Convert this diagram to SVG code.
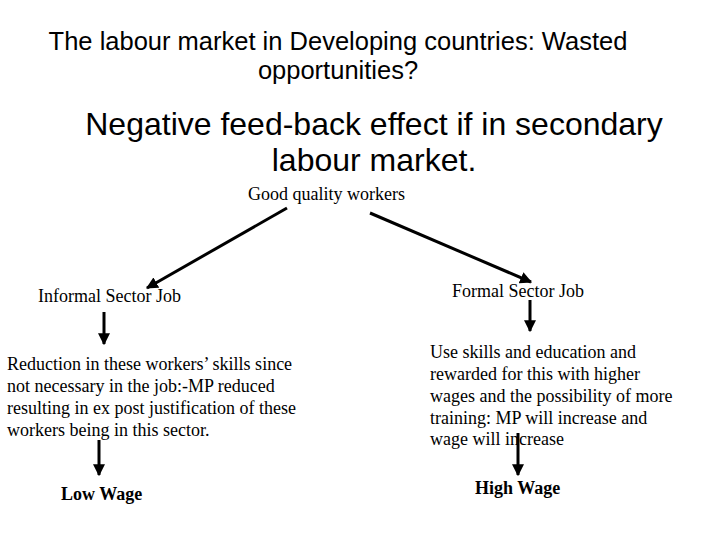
<svg xmlns="http://www.w3.org/2000/svg" width="720" height="540" viewBox="0 0 720 540">
<style>
.title{font-family:"Liberation Sans",Arial,sans-serif;font-size:25.5px;fill:#000;text-anchor:middle}
.sub{font-family:"Liberation Sans",Arial,sans-serif;font-size:32px;fill:#000;text-anchor:middle}
.t{font-family:"Liberation Serif","Times New Roman",serif;font-size:18px;fill:#000}
.b{font-family:"Liberation Serif","Times New Roman",serif;font-size:18px;font-weight:bold;fill:#000}
.c{stroke:#000;stroke-width:3;fill:none;marker-end:url(#ah)}
</style>
<defs>
<marker id="ah" viewBox="0 0 10 10" refX="9" refY="5" markerWidth="4" markerHeight="4" orient="auto" markerUnits="strokeWidth">
<path d="M0,0 L10,5 L0,10 z" fill="#000"/>
</marker>
</defs>
<rect width="720" height="540" fill="#fff"/>
<g id="title">
<text class="title" x="338" y="50">The labour market in Developing countries: Wasted</text>
<text class="title" x="338" y="79">opportunities?</text>
</g>
<g id="subtitle">
<text class="sub" x="374" y="135">Negative feed-back effect if in secondary</text>
<text class="sub" x="374" y="171">labour market.</text>
</g>
<g id="good"><text class="t" x="248" y="200">Good quality workers</text></g>
<g id="informal"><text class="t" x="38" y="302">Informal Sector Job</text></g>
<g id="formal"><text class="t" x="452" y="297">Formal Sector Job</text></g>
<g id="reduction">
<text class="t" x="7" y="370">Reduction in these workers’ skills since</text>
<text class="t" x="7" y="392">not necessary in the job:-MP reduced</text>
<text class="t" x="7" y="414">resulting in ex post justification of these</text>
<text class="t" x="7" y="436">workers being in this sector.</text>
</g>
<g id="useskills">
<text class="t" x="430" y="358">Use skills and education and</text>
<text class="t" x="430" y="380">rewarded for this with higher</text>
<text class="t" x="430" y="402">wages and the possibility of more</text>
<text class="t" x="430" y="424">training: MP will increase and</text>
<text class="t" x="430" y="445">wage will increase</text>
</g>
<g id="lowwage"><text class="b" x="61" y="500">Low Wage</text></g>
<g id="highwage"><text class="b" x="475" y="494">High Wage</text></g>
<g id="connectors">
<line class="c" x1="287" y1="208" x2="147" y2="288"/>
<line class="c" x1="370" y1="213" x2="531" y2="282"/>
<line class="c" x1="104" y1="312" x2="104" y2="344"/>
<line class="c" x1="530" y1="300" x2="530" y2="331"/>
<line class="c" x1="99" y1="440" x2="99" y2="475"/>
<line class="c" x1="518" y1="433" x2="518" y2="475"/>
</g>
</svg>
